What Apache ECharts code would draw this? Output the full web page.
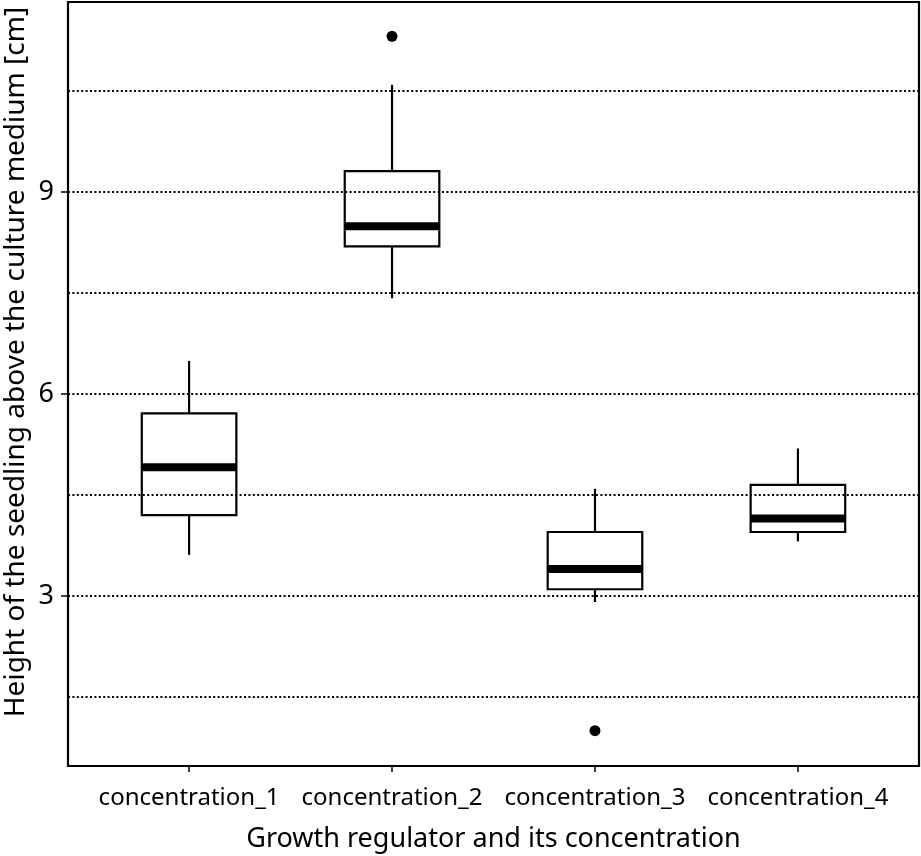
<!DOCTYPE html>
<html>
<head>
<meta charset="utf-8">
<script src="https://cdn.jsdelivr.net/npm/echarts@6/dist/echarts.min.js"></script>
<style>
html,body{margin:0;padding:0;background:#fff;}
#chart{width:921px;height:856px;}
</style>
</head>
<body>
<div id="chart"></div>
<script>
// ---- data ----
const categories = ['concentration_1', 'concentration_2', 'concentration_3', 'concentration_4'];
const lowerWhisker = [3.61, 7.42, 2.91, 3.81];
const q1Values     = [4.20, 8.19, 3.10, 3.95];
const medianValues = [4.91, 8.49, 3.40, 4.15];
const q3Values     = [5.71, 9.31, 3.95, 4.65];
const upperWhisker = [6.49, 10.59, 4.59, 5.19];
const outlierCategory = [1, 2];
const outlierValues   = [11.31, 1.00];
const yTickLabels = [3, 6, 9];
const gridLineValues = [1.5, 3, 4.5, 6, 7.5, 9, 10.5];
const yMin = 0.475, yMax = 11.82;

const boxData = categories.map((c, i) => [i, lowerWhisker[i], q1Values[i], medianValues[i], q3Values[i], upperWhisker[i]]);
const outlierData = outlierCategory.map((c, i) => [c, outlierValues[i]]);

const FONT = 'Noto Sans';
const chart = echarts.init(document.getElementById('chart'));

function renderBox(params, api) {
  const x = api.value(0);
  const pLow = api.coord([x, api.value(1)]);
  const pQ1 = api.coord([x, api.value(2)]);
  const pMed = api.coord([x, api.value(3)]);
  const pQ3 = api.coord([x, api.value(4)]);
  const pHigh = api.coord([x, api.value(5)]);
  const band = api.size([1, 0])[0];
  const w = band * 0.466;
  const cx = pMed[0];
  const stroke = { stroke: '#000', lineWidth: 2.2, fill: null };
  return {
    type: 'group',
    children: [
      { type: 'line', shape: { x1: cx, y1: pLow[1], x2: cx, y2: pQ1[1] }, style: stroke },
      { type: 'line', shape: { x1: cx, y1: pQ3[1], x2: cx, y2: pHigh[1] }, style: stroke },
      { type: 'rect', shape: { x: cx - w / 2, y: pQ3[1], width: w, height: pQ1[1] - pQ3[1] }, style: { fill: '#fff', stroke: '#000', lineWidth: 2.2 } },
      { type: 'rect', shape: { x: cx - w / 2, y: pMed[1] - 4, width: w, height: 8 }, style: { fill: '#000', stroke: null } }
    ]
  };
}

chart.setOption({
  backgroundColor: '#fff',
  animation: false,
  grid: [
    { left: 68, right: 2, top: 2, bottom: 90, outerBoundsMode: 'none', containLabel: false, show: true, borderColor: '#000', borderWidth: 2.2, backgroundColor: 'transparent' },
    { left: 87.6, right: 21.6, top: 2, bottom: 90, outerBoundsMode: 'none', containLabel: false }
  ],
  xAxis: [
    {
      gridIndex: 0, type: 'value', min: 0, max: 1,
      name: 'Growth regulator and its concentration', nameLocation: 'middle', nameGap: 60,
      nameTextStyle: { fontFamily: FONT, fontSize: 27, color: '#000' },
      axisLine: { show: false }, axisTick: { show: false }, axisLabel: { show: false }, splitLine: { show: false }
    },
    {
      gridIndex: 1, type: 'category', data: categories, boundaryGap: true,
      axisLine: { show: false },
      axisTick: { show: true, alignWithLabel: true, length: 6, lineStyle: { color: '#000', width: 1.5 } },
      axisLabel: { interval: 0, fontFamily: FONT, fontSize: 24, color: '#000', margin: 20 },
      splitLine: { show: false }
    }
  ],
  yAxis: [
    {
      gridIndex: 0, type: 'value', min: yMin, max: yMax,
      axisLine: { show: false },
      axisTick: { show: true, customValues: yTickLabels, length: 7, lineStyle: { color: '#000', width: 1.5 } },
      axisLabel: { show: true, customValues: yTickLabels, fontFamily: FONT, fontSize: 27, color: '#000', margin: 14 },
      splitLine: { show: false }
    },
    {
      gridIndex: 1, type: 'value', min: yMin, max: yMax, show: false,
      splitLine: { show: false }
    }
  ],
  graphic: [{
    type: 'text', x: 16, y: 362, rotation: Math.PI / 2,
    style: { text: 'Height of the seedling above the culture medium [cm]', fontFamily: FONT, fontSize: 28, fill: '#000', align: 'center', verticalAlign: 'middle' }
  }],
  series: [
    {
      type: 'scatter', xAxisIndex: 0, yAxisIndex: 0, data: [], silent: true,
      markLine: {
        silent: true, symbol: 'none', animation: false,
        label: { show: false },
        lineStyle: { color: '#000', type: [2, 2.4], width: 1.8, opacity: 1 },
        emphasis: { disabled: true },
        data: gridLineValues.map(v => ({ yAxis: v }))
      }
    },
    {
      type: 'custom', xAxisIndex: 1, yAxisIndex: 1, data: boxData,
      renderItem: renderBox,
      encode: { x: 0, y: [1, 2, 3, 4, 5] },
      z: 3, silent: true
    },
    {
      type: 'scatter', xAxisIndex: 1, yAxisIndex: 1, data: outlierData,
      symbol: 'circle', symbolSize: 11, itemStyle: { color: '#000', opacity: 1 }, z: 4, silent: true
    }
  ]
});
</script>
</body>
</html>
